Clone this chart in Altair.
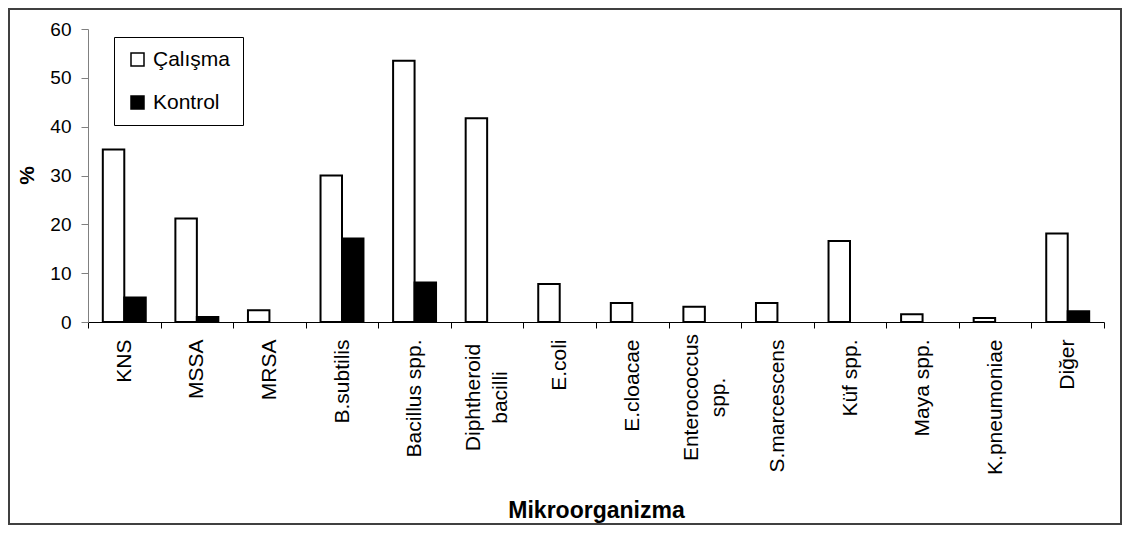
import altair as alt
import pandas as pd

categories = ["KNS", "MSSA", "MRSA", "B.subtilis", "Bacillus spp.", "Diphtheroid bacilli",
              "E.coli", "E.cloacae", "Enterococcus spp.", "S.marcescens", "Küf spp.",
              "Maya spp.", "K.pneumoniae", "Diğer"]
calisma = [35.3, 21.2, 2.4, 30.0, 53.5, 41.7, 7.8, 3.9, 3.1, 3.9, 16.6, 1.6, 0.8, 18.1]
kontrol = [5.0, 1.0, 0, 17.1, 8.1, 0, 0, 0, 0, 0, 0, 0, 0, 2.2]
series = ["Çalışma", "Kontrol"]
y_ticks = [0, 10, 20, 30, 40, 50, 60]
two_line = ["Diphtheroid bacilli", "Enterococcus spp."]

rows = []
for c, a, b in zip(categories, calisma, kontrol):
    if a > 0:
        rows.append({"cat": c, "series": series[0], "value": a})
    if b > 0:
        rows.append({"cat": c, "series": series[1], "value": b})
df = pd.DataFrame(rows)

FONT = "Liberation Sans"
test = "indexof(['Diphtheroid bacilli','Enterococcus spp.'], datum.value) >= 0"
label_expr = ("indexof(['Diphtheroid bacilli','Enterococcus spp.'], datum.label) >= 0"
              " ? split(datum.label, ' ') : datum.label")

bars = alt.Chart(df).mark_bar(stroke="black", strokeWidth=2, strokeJoin="miter").encode(
    x=alt.X("cat:N", sort=categories,
            scale=alt.Scale(domain=categories, paddingInner=0, paddingOuter=0),
            axis=alt.Axis(title="Mikroorganizma", titleFont=FONT, titleFontSize=23,
                          titleFontWeight="bold", titleColor="black",
                          titleY=195, titleBaseline="alphabetic",
                          labelAngle=270,
                          labelAlign={"condition": {"test": test, "value": "center"}, "value": "right"},
                          labelPadding={"condition": {"test": test, "value": 69}, "value": 11},
                          labelOffset={"condition": {"test": test, "value": -13.5}, "value": 0},
                          labelBaseline="middle",
                          labelFont=FONT, labelFontSize=21, labelColor="black",
                          labelLineHeight=27, labelExpr=label_expr,
                          labelOverlap=False, labelLimit=400,
                          tickSize=6, tickBand="extent", tickColor="black",
                          domainColor="black", grid=False)),
    xOffset=alt.XOffset("series:N",
                        scale=alt.Scale(domain=series, paddingInner=0, paddingOuter=0.69)),
    y=alt.Y("value:Q", scale=alt.Scale(domain=[0, 60], nice=False),
            axis=alt.Axis(values=y_ticks, title="%", titleFont=FONT, titleFontSize=21,
                          titleFontWeight="bold", titleColor="black", titleAngle=270,
                          titleX=-61, titleY=146, titleAlign="center", titleBaseline="middle",
                          labelFont=FONT, labelFontSize=19, labelColor="black",
                          labelPadding=10, tickSize=7, tickColor="#808080",
                          domainColor="#808080", grid=False)),
    color=alt.Color("series:N", scale=alt.Scale(domain=series, range=["white", "black"]),
                    legend=alt.Legend(title=None, orient="none", legendX=26, legendY=8,
                                      direction="vertical", symbolType="square",
                                      symbolSize=169, symbolStrokeColor="black",
                                      symbolStrokeWidth=1.5, symbolOffset=1,
                                      labelFont=FONT, labelFontSize=21, labelColor="black",
                                      labelOffset=5, rowPadding=21, padding=12,
                                      fillColor="white", strokeColor="black")),
)

border = alt.Chart(pd.DataFrame({"a": [0]})).mark_rect(
    fill="transparent", stroke="#404040", strokeWidth=2
).encode(x=alt.value(-79), x2=alt.value(1033), y=alt.value(-20), y2=alt.value(495))

chart = alt.layer(border, bars).properties(width=1016, height=293, padding=0).configure_view(
    stroke="transparent"
)

chart.save("out.html", embed_options={"renderer": "svg", "actions": False})
